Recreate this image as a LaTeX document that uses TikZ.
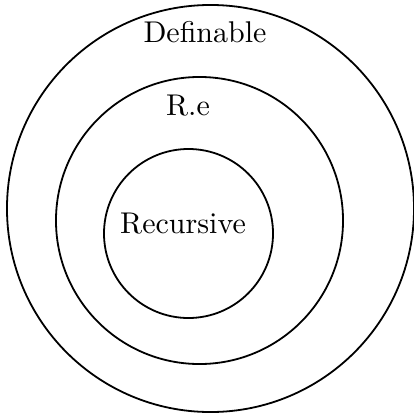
\documentclass[tikz,border=0pt]{standalone}
\begin{document}
\begin{tikzpicture}[x=0.3333pt,y=-0.3333pt,
  ring/.style={circle,draw,line width=0.6pt,inner sep=0pt,outer sep=0pt},
  lbl/.style={anchor=base,inner sep=0pt,font=\fontsize{10pt}{12pt}\selectfont}]
\useasboundingbox (0,0) rectangle (414,414);
\node[ring,minimum size=135.67pt] (outer) at (210.5,208.5) {};
\node[ring,minimum size=95.67pt] (middle) at (199.5,220.5) {};
\node[ring,minimum size=56.33pt] (inner) at (188.5,233.5) {};
\node[lbl] (def) at (205,43) {Definable};
\node[lbl] (re) at (188,115) {R.e};
\node[lbl] (rec) at (183,233) {Recursive};
\end{tikzpicture}
\end{document}
